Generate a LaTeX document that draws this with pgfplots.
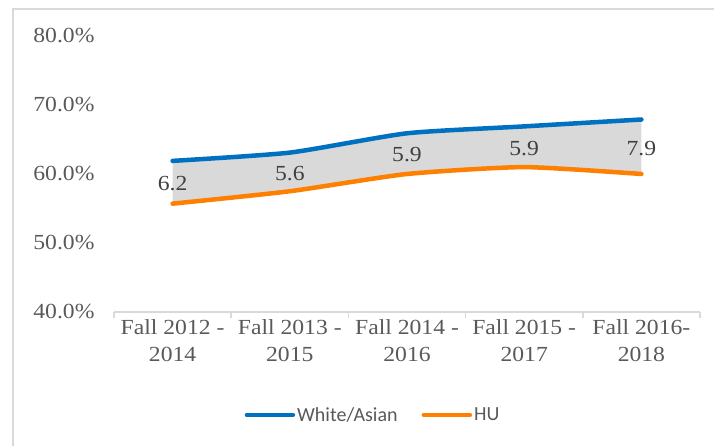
\documentclass[border=0pt]{standalone}
\usepackage{pgfplots}
\pgfplotsset{compat=1.18}
\usepgfplotslibrary{fillbetween}
\usepackage{fontspec}
\setmainfont{Liberation Serif}[FakeStretch=1.1]
\newfontfamily\legendfont{Carlito}
\definecolor{WABlue}{RGB}{0,112,192}
\definecolor{HUOrange}{RGB}{255,127,0}
\definecolor{GapGrey}{RGB}{217,217,217}
\definecolor{LineGrey}{RGB}{217,217,217}
\definecolor{TickText}{RGB}{89,89,89}
\definecolor{LabelText}{RGB}{64,64,64}

% completion rates (%) by cohort
\pgfplotstableread{
x wa hu
0 61.9 55.7
1 63.1 57.5
2 65.9 60.0
3 66.9 61.0
4 67.9 60.0
}\rates
% gap labels, placed inside the shaded band
\pgfplotstableread{
x y lab
0 58.6 6.2
1 60.1 5.6
2 62.8 5.9
3 63.7 5.9
4 63.7 7.9
}\gaps

\begin{document}
\begin{tikzpicture}
\draw[LineGrey, line width=1.5bp] (13bp,-10bp) |- (730bp,437bp);
\begin{axis}[
  at={(114bp,134bp)}, anchor=south west,
  scale only axis, width=586bp, height=276bp,
  xmin=-0.5, xmax=4.5, ymin=40, ymax=80,
  axis x line*=bottom, axis y line*=left,
  x axis line style={LineGrey, line width=1.5bp, -},
  y axis line style={draw=none},
  xtick={0,...,4},
  xticklabels={{Fall 2012 -\\2014},{Fall 2013 -\\2015},{Fall 2014 -\\2016},{Fall 2015 -\\2017},{Fall 2016-\\2018}},
  xtick style={draw=none},
  extra x ticks={-0.5,0.5,1.5,2.5,3.5,4.5},
  extra x tick labels={},
  extra x tick style={tick align=outside, major tick length=6bp,
    xtick style={draw=LineGrey, line width=1.5bp}},
  ytick={40,50,...,80},
  yticklabels={40.0\%,50.0\%,60.0\%,70.0\%,80.0\%},
  ytick style={draw=none},
  tick label style={font=\fontsize{21.5bp}{27bp}\selectfont, text=TickText},
  xticklabel style={align=center, yshift=-4bp},
  yticklabel style={xshift=-16bp},
  legend style={draw=none, fill=none, legend columns=2,
    at={(0.442,-0.373)}, anchor=center,
    font=\legendfont\fontsize{20bp}{24bp}\selectfont, text=TickText,
    /tikz/every even column/.append style={column sep=22bp}},
  legend image code/.code={\draw[#1] (0bp,0bp) -- (46bp,0bp);},
]
\addplot[name path=wa, WABlue, line width=4.5bp, line cap=round, smooth, tension=0.35, forget plot]
  table[x=x, y=wa] {\rates};
\addplot[name path=hu, HUOrange, line width=4.5bp, line cap=round, smooth, tension=0.35, forget plot]
  table[x=x, y=hu] {\rates};
\addplot[GapGrey, forget plot] fill between[of=wa and hu];
\addplot[forget plot, only marks, mark=*, mark size=0pt, draw=none,
  point meta=explicit symbolic, nodes near coords,
  every node near coord/.append style={anchor=center, font=\fontsize{21.5bp}{25bp}\selectfont, text=LabelText}]
  table[x=x, y=y, meta=lab] {\gaps};
\addlegendimage{WABlue, line width=4.5bp, line cap=round}
\addlegendentry{White/Asian}
\addlegendimage{HUOrange, line width=4.5bp, line cap=round}
\addlegendentry{HU}
\end{axis}
\pgfresetboundingbox
\path[use as bounding box] (0,0) rectangle (714bp,446bp);
\end{tikzpicture}
\end{document}
